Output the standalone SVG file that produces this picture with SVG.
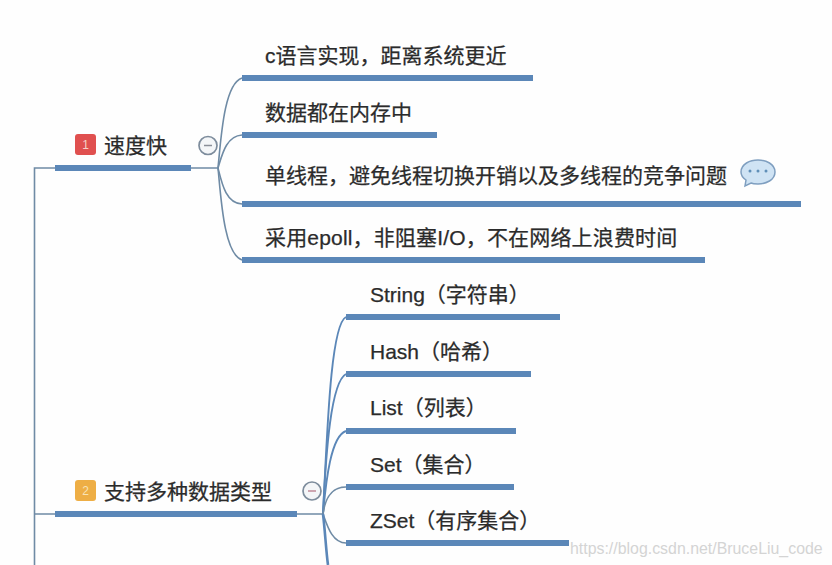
<svg xmlns="http://www.w3.org/2000/svg" width="832" height="565" viewBox="0 0 832 565">
<style>
text{font-family:"Liberation Sans","Noto Sans CJK SC",sans-serif;font-size:21px;fill:#2b2b2b;stroke:#2b2b2b;stroke-width:.25}
.bar{fill:#5b87b8}
.sub{fill:#5b87b8}
.c{fill:none;stroke:#6f8ba5;stroke-width:1.6}
.c2{fill:none;stroke:#5b87b8;stroke-width:1.9}
.fold{fill:#f4f6f8;stroke:#7d8c9c;stroke-width:1.7}
.dash{stroke:#8a8f98;stroke-width:1.5}
</style>
<rect width="832" height="565" fill="#fefefe"/>
<g id="connectors">
<path class="c" d="M34.500 565V168H55M191 168H218"/>
<path class="c" d="M34.500 514H55M297 514H323"/>
<path class="c" d="M218 168C221 138 224 84 242 78"/>
<path class="c" d="M218 168C222 155 226 136 242 135"/>
<path class="c" d="M218 168C222 184 226 203 242 204"/>
<path class="c" d="M218 168C221 198 224 254 242 260"/>
<path class="c2" d="M323 514C327 440 330 325 346 317"/>
<path class="c2" d="M323 514C326 450 331 382 346 374"/>
<path class="c2" d="M323 514C326 480 331 436 346 431"/>
<path class="c" d="M323 514C325 500 330 487 346 487"/>
<path class="c" d="M323 514C327 525 332 543 346 543"/>
<path class="c2" style="stroke-width:2.6" d="M323 514C325 530 326 550 328 565"/>
</g>
<g id="node-speed">
<rect class="bar" x="55" y="165" width="136" height="6"/>
<rect x="75" y="134" width="21" height="21" rx="3" fill="#e0504f"/>
<text x="85.500" y="149" text-anchor="middle" style="font-size:12px;fill:#f6d0c8;stroke:none">1</text>
<text x="104" y="153">速度快</text>
<circle class="fold" cx="208" cy="145.500" r="9"/>
<line class="dash" x1="204" y1="145.500" x2="212" y2="145.500"/>
</g>
<g id="node-c">
<rect class="sub" x="242" y="75" width="291" height="6"/>
<text x="265" y="63">c语言实现，距离系统更近</text>
</g>
<g id="node-memory">
<rect class="sub" x="242" y="132" width="195" height="6"/>
<text x="265" y="120">数据都在内存中</text>
</g>
<g id="node-single">
<rect class="sub" x="242" y="201" width="559" height="6"/>
<text x="265" y="182.500">单线程，避免线程切换开销以及多线程的竞争问题</text>
<path d="M758 160C766 160 775 164 775 172C775 180 766 184 758 184C755 184 753 184 751 183L745 186L746 180C743 178 741 176 741 172C741 164 750 160 758 160Z" fill="#cfe3f4" stroke="#7f9fc0" stroke-width="1.500"/>
<circle cx="750" cy="171" r="1.500" fill="#5f8fb8"/><circle cx="758" cy="171" r="1.500" fill="#5f8fb8"/><circle cx="766" cy="171" r="1.500" fill="#5f8fb8"/>
</g>
<g id="node-epoll">
<rect class="sub" x="242" y="257" width="463" height="6"/>
<text x="265" y="245" style="letter-spacing:.17px">采用epoll，非阻塞I/O，不在网络上浪费时间</text>
</g>
<g id="node-types">
<rect class="bar" x="55" y="511" width="242" height="6"/>
<rect x="75" y="480" width="21" height="21" rx="3" fill="#eeae45"/>
<text x="85.500" y="495" text-anchor="middle" style="font-size:12px;fill:#f8e3b5;stroke:none">2</text>
<text x="104" y="499">支持多种数据类型</text>
<circle class="fold" cx="312" cy="491" r="9"/>
<line class="dash" x1="308" y1="491" x2="316" y2="491" style="stroke:#c08a98"/>
</g>
<g id="node-string">
<rect class="sub" x="346" y="314" width="214" height="6"/>
<text x="370" y="302">String（字符串）</text>
</g>
<g id="node-hash">
<rect class="sub" x="346" y="371" width="185" height="6"/>
<text x="370" y="359">Hash（哈希）</text>
</g>
<g id="node-list">
<rect class="sub" x="346" y="428" width="170" height="6"/>
<text x="370" y="415">List（列表）</text>
</g>
<g id="node-set">
<rect class="sub" x="346" y="484" width="168" height="6"/>
<text x="370" y="472">Set（集合）</text>
</g>
<g id="node-zset">
<rect class="sub" x="346" y="540" width="223" height="6"/>
<text x="370" y="528">ZSet（有序集合）</text>
</g>
<text x="570" y="554" style="font-size:15.900px;fill:#d4d4d4;stroke:none">https://blog.csdn.net/BruceLiu_code</text>
</svg>
